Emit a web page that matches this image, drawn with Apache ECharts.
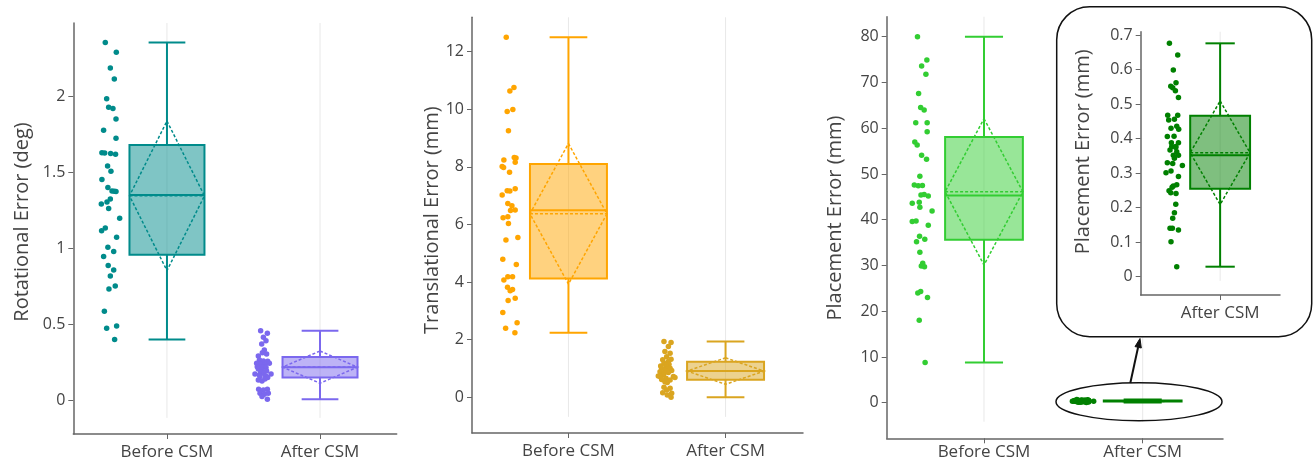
<!DOCTYPE html>
<html><head><meta charset="utf-8">
<script src="https://cdn.jsdelivr.net/npm/echarts@6/dist/echarts.min.js"></script>
<style>html,body{margin:0;padding:0;background:#fff}#c{width:1313px;height:467px}</style>
</head><body><div id="c"></div>
<script>
const categories = ['Before CSM', 'After CSM'];

// ---- Rotational error (deg) ----
const rotBefore = [2.351,2.287,2.184,2.112,1.982,1.925,1.917,1.849,1.774,1.721,1.627,1.625,1.621,1.616,1.539,1.504,1.450,1.397,1.375,1.373,1.371,1.322,1.303,1.289,1.259,1.195,1.132,1.114,1.070,1.004,0.976,0.943,0.884,0.855,0.816,0.750,0.730,0.583,0.487,0.471,0.397];
const rotBeforeJitter = [-0.403,-0.331,-0.370,-0.344,-0.394,-0.381,-0.353,-0.333,-0.414,-0.333,-0.425,-0.407,-0.368,-0.336,-0.388,-0.366,-0.425,-0.386,-0.359,-0.344,-0.333,-0.370,-0.392,-0.429,-0.381,-0.309,-0.403,-0.427,-0.329,-0.386,-0.348,-0.414,-0.384,-0.348,-0.370,-0.338,-0.379,-0.409,-0.329,-0.394,-0.342];
const rotAfter = [0.456,0.439,0.412,0.390,0.368,0.329,0.311,0.303,0.289,0.263,0.257,0.254,0.241,0.241,0.237,0.230,0.219,0.219,0.213,0.204,0.197,0.190,0.186,0.175,0.171,0.171,0.164,0.158,0.154,0.147,0.138,0.132,0.125,0.070,0.070,0.066,0.044,0.044,0.037,0.022,0.004];
const rotAfterJitter = [-0.388,-0.344,-0.370,-0.353,-0.381,-0.364,-0.377,-0.349,-0.403,-0.396,-0.370,-0.342,-0.414,-0.331,-0.386,-0.360,-0.375,-0.410,-0.353,-0.403,-0.381,-0.349,-0.388,-0.370,-0.425,-0.320,-0.396,-0.355,-0.392,-0.342,-0.360,-0.403,-0.379,-0.401,-0.344,-0.370,-0.392,-0.338,-0.364,-0.379,-0.344];
// [position, min, q1, median, q3, max, mean, sd]
const rotBeforeBox = [0, 0.397, 0.956, 1.349, 1.678, 2.351, 1.343, 0.492];
const rotAfterBox  = [1, 0.004, 0.147, 0.215, 0.283, 0.456, 0.216, 0.106];
const rotTicks = [0, 0.5, 1, 1.5, 2];

// ---- Translational error (mm) ----
const trBefore = [12.50,10.75,10.63,9.99,9.92,9.25,8.32,8.31,8.24,8.16,8.01,7.98,7.81,7.24,7.17,7.16,7.02,6.73,6.65,6.50,6.48,6.27,6.23,6.03,5.55,5.46,4.79,4.61,4.18,4.18,4.07,3.82,3.74,3.70,3.44,3.36,2.94,2.59,2.40,2.24];
const trBeforeJitter = [-0.396,-0.347,-0.373,-0.354,-0.390,-0.382,-0.345,-0.334,-0.411,-0.339,-0.422,-0.413,-0.375,-0.339,-0.390,-0.373,-0.422,-0.386,-0.360,-0.339,-0.369,-0.386,-0.416,-0.382,-0.322,-0.398,-0.418,-0.332,-0.386,-0.356,-0.411,-0.388,-0.356,-0.371,-0.339,-0.384,-0.418,-0.327,-0.400,-0.341];
const trAfter = [1.94,1.90,1.76,1.59,1.53,1.41,1.32,1.30,1.24,1.18,1.15,1.12,1.09,1.06,1.01,1.01,0.98,0.95,0.93,0.93,0.89,0.86,0.84,0.77,0.74,0.72,0.72,0.69,0.66,0.62,0.60,0.54,0.51,0.35,0.31,0.25,0.16,0.14,0.08,0.00];
const trAfterJitter = [-0.392,-0.347,-0.364,-0.386,-0.353,-0.375,-0.347,-0.400,-0.364,-0.392,-0.360,-0.379,-0.413,-0.375,-0.353,-0.407,-0.370,-0.386,-0.343,-0.358,-0.417,-0.364,-0.390,-0.396,-0.428,-0.332,-0.417,-0.322,-0.379,-0.407,-0.353,-0.386,-0.371,-0.392,-0.353,-0.375,-0.400,-0.343,-0.371,-0.347];
const trBeforeBox = [0, 2.24, 4.12, 6.49, 8.10, 12.50, 6.37, 2.44];
const trAfterBox  = [1, 0.00, 0.61, 0.91, 1.23, 1.94, 0.91, 0.46];
const trTicks = [0, 2, 4, 6, 8, 10, 12];

// ---- Placement error (mm) ----
const plBefore = [80.0,74.9,73.6,71.8,67.6,64.5,64.0,61.2,61.2,59.2,57.0,56.3,54.1,53.2,49.5,47.6,47.5,47.4,45.5,45.4,45.2,43.8,43.6,42.7,41.9,39.7,39.6,38.8,36.4,35.7,35.2,32.9,30.5,29.9,29.7,24.3,24.0,23.0,18.0,8.8];
const plBeforeJitter = [-0.419,-0.360,-0.393,-0.366,-0.412,-0.399,-0.377,-0.430,-0.358,-0.358,-0.436,-0.421,-0.393,-0.362,-0.404,-0.439,-0.388,-0.414,-0.377,-0.397,-0.351,-0.408,-0.452,-0.404,-0.327,-0.428,-0.452,-0.351,-0.406,-0.373,-0.425,-0.404,-0.386,-0.395,-0.375,-0.399,-0.417,-0.356,-0.408,-0.371];
const plAfter = [0.676,0.642,0.599,0.562,0.552,0.547,0.539,0.519,0.468,0.468,0.456,0.454,0.436,0.430,0.427,0.407,0.406,0.388,0.388,0.377,0.377,0.374,0.367,0.362,0.352,0.352,0.343,0.330,0.328,0.322,0.306,0.301,0.290,0.266,0.263,0.259,0.249,0.243,0.241,0.210,0.185,0.169,0.140,0.140,0.135,0.101,0.029];
const plAfterJitter = [-0.415,-0.347,-0.383,-0.361,-0.404,-0.388,-0.366,-0.341,-0.429,-0.347,-0.374,-0.421,-0.355,-0.402,-0.339,-0.377,-0.432,-0.399,-0.341,-0.396,-0.363,-0.363,-0.410,-0.355,-0.383,-0.341,-0.374,-0.432,-0.388,-0.309,-0.402,-0.443,-0.341,-0.355,-0.383,-0.393,-0.418,-0.404,-0.361,-0.363,-0.374,-0.388,-0.410,-0.391,-0.341,-0.402,-0.355];
const plBeforeBox = [0, 8.8, 35.6, 45.3, 58.1, 80.0, 46.1, 16.0];
const plAfterBox  = [1, 0.029, 0.255, 0.352, 0.466, 0.676, 0.359, 0.150];
const plAfterInsetBox = [0, 0.029, 0.255, 0.352, 0.466, 0.676, 0.359, 0.150];
const plTicks = [0, 10, 20, 30, 40, 50, 60, 70, 80];
const plInsetTicks = [0, 0.1, 0.2, 0.3, 0.4, 0.5, 0.6, 0.7];

// ---- styles ----
const FONT = 'Open Sans';
const TXT = '#444';
const AXC = '#666';
const HALF_W = 0.245, CAP_W = 0.12;
const COLORS = {
  teal: ['#008B8B', 'rgba(0,139,139,0.5)'],
  purple: ['#7B68EE', 'rgba(123,104,238,0.5)'],
  orange: ['#FFA500', 'rgba(255,165,0,0.5)'],
  gold: ['#DAA520', 'rgba(218,165,32,0.5)'],
  lime: ['#32CD32', 'rgba(50,205,50,0.5)'],
  green: ['#008000', 'rgba(0,128,0,0.5)']
};

const chart = echarts.init(document.getElementById('c'), null, {renderer: 'canvas'});

function zip(offsets, values, center) {
  return values.map((v, i) => [center + offsets[i], v]);
}

function xAxisOpt(i, min, max, positions, names, margin, z) {
  return {
    type: 'value', gridIndex: i, min, max, z: z || 0,
    axisLine: {show: true, onZero: false, lineStyle: {color: AXC, width: 1.5}},
    axisTick: {show: true, customValues: positions, length: 5, lineStyle: {color: AXC, width: 1}},
    axisLabel: {show: true, customValues: positions,
      formatter: v => names[positions.indexOf(Math.round(v))],
      color: TXT, fontFamily: FONT, fontSize: 17, margin},
    splitLine: {show: false}
  };
}

function yAxisOpt(i, min, max, ticks, name, gap, pad, z) {
  return {
    type: 'value', gridIndex: i, min, max, z: z || 0,
    name, nameLocation: 'middle', nameGap: gap, nameRotate: 90,
    nameTextStyle: {color: TXT, fontFamily: FONT, fontSize: 20, padding: [0, 0, 0, pad]},
    axisLine: {show: true, onZero: false, lineStyle: {color: AXC, width: 1.5}},
    axisTick: {show: true, customValues: ticks, length: 5, lineStyle: {color: AXC, width: 1}},
    axisLabel: {show: true, customValues: ticks, color: TXT, fontFamily: FONT, fontSize: 16, margin: 8},
    splitLine: {show: false}
  };
}

function gridLines(i, positions, yTop, yEnd, z) {
  return {
    type: 'custom', xAxisIndex: i, yAxisIndex: i, silent: true, z: z || 1,
    data: positions.map(p => [p, yEnd]),
    renderItem: (params, api) => {
      const x = api.value(0);
      const a = api.coord([x, yTop]), b = api.coord([x, yEnd]);
      return {type: 'line', shape: {x1: a[0], y1: a[1], x2: b[0], y2: b[1]},
        style: {stroke: '#e8e8e8', lineWidth: 1}};
    }
  };
}

function boxSeries(i, stats, col, z) {
  const color = col[0], fill = col[1];
  return {
    type: 'custom', xAxisIndex: i, yAxisIndex: i, silent: true, z: z || 2,
    data: [stats],
    encode: {x: 0, y: [1, 2, 3, 4, 5]},
    renderItem: (params, api) => {
      const v = k => api.value(k);
      const x = v(0), mn = v(1), q1 = v(2), md = v(3), q3 = v(4), mx = v(5), mean = v(6), sd = v(7);
      const P = (a, b) => api.coord([a, b]);
      const tl = P(x - HALF_W, q3), br = P(x + HALF_W, q1);
      const line = (p1, p2, dash, w) => ({type: 'line',
        shape: {x1: p1[0], y1: p1[1], x2: p2[0], y2: p2[1]},
        style: {stroke: color, lineWidth: w || 2, lineDash: dash || null}});
      return {type: 'group', children: [
        {type: 'rect', shape: {x: tl[0], y: tl[1], width: br[0] - tl[0], height: Math.max(br[1] - tl[1], 0.5)},
          style: {fill, stroke: color, lineWidth: 2}},
        line(P(x, q3), P(x, mx)),
        line(P(x, q1), P(x, mn)),
        line(P(x - CAP_W, mx), P(x + CAP_W, mx)),
        line(P(x - CAP_W, mn), P(x + CAP_W, mn)),
        line(P(x - HALF_W, md), P(x + HALF_W, md)),
        line(P(x - HALF_W, mean), P(x + HALF_W, mean), [3, 2], 1.5),
        {type: 'polygon', shape: {points: [P(x, mean + sd), P(x + HALF_W, mean), P(x, mean - sd), P(x - HALF_W, mean)]},
          style: {fill: 'transparent', stroke: color, lineWidth: 1.5, lineDash: [3, 2]}}
      ]};
    }
  };
}

function dots(i, data, color, z) {
  return {type: 'scatter', xAxisIndex: i, yAxisIndex: i, data, symbolSize: 5.5,
    itemStyle: {color, opacity: 1}, z: z || 3, silent: true};
}

const Y1 = [-0.224, 2.480], Y2 = [-1.24, 13.19], Y3 = [-7.78, 84.37], Y4 = [-0.053, 0.7097];

const option = {
  animation: false,
  backgroundColor: '#fff',
  grid: [
    {left: 73.3, top: 23, width: 323.4, height: 411},
    {left: 472, top: 17.3, width: 331, height: 415.7},
    {left: 886.7, top: 16.7, width: 336.3, height: 421.6},
    {left: 1140.7, top: 31.7, width: 139.3, height: 263.3, z: 10}
  ],
  xAxis: [
    xAxisOpt(0, -0.612, 1.501, [0, 1], categories, 9.5),
    xAxisOpt(1, -0.614, 1.493, [0, 1], categories, 9.5),
    xAxisOpt(2, -0.613, 1.506, [0, 1], categories, 5.5),
    xAxisOpt(3, -0.65, 0.49, [0], [categories[1]], 9.5, 10)
  ],
  yAxis: [
    yAxisOpt(0, Y1[0], Y1[1], rotTicks, 'Rotational Error (deg)', 41.5, 13),
    yAxisOpt(1, Y2[0], Y2[1], trTicks, 'Translational Error (mm)', 30, 10),
    yAxisOpt(2, Y3[0], Y3[1], plTicks, 'Placement Error (mm)', 41.5, 19),
    yAxisOpt(3, Y4[0], Y4[1], plInsetTicks, 'Placement Error (mm)', 47.5, 23, 10)
  ],
  graphic: [
    {type: 'rect', z: 5, silent: true, shape: {x: 1056.7, y: 6.7, width: 255, height: 330, r: 33},
      style: {fill: '#fff', stroke: '#111', lineWidth: 1.5}},
    {type: 'ellipse', z: 20, silent: true, shape: {cx: 1139, cy: 401.7, rx: 83, ry: 19},
      style: {fill: 'transparent', stroke: '#111', lineWidth: 1.5}},
    {type: 'line', z: 20, silent: true, shape: {x1: 1130.3, y1: 383, x2: 1138.1, y2: 347.3},
      style: {stroke: '#111', lineWidth: 2}},
    {type: 'polygon', z: 20, silent: true, shape: {points: [[1140, 338.5], [1141.3, 348], [1135, 346.6]]},
      style: {fill: '#111', stroke: '#111', lineWidth: 1}}
  ],
  series: [
    gridLines(0, [0, 1], Y1[1], -0.118),
    boxSeries(0, rotBeforeBox, COLORS.teal),
    boxSeries(0, rotAfterBox, COLORS.purple),
    dots(0, zip(rotBeforeJitter, rotBefore, 0), COLORS.teal[0]),
    dots(0, zip(rotAfterJitter, rotAfter, 1), COLORS.purple[0]),

    gridLines(1, [0, 1], Y2[1], -0.68),
    boxSeries(1, trBeforeBox, COLORS.orange),
    boxSeries(1, trAfterBox, COLORS.gold),
    dots(1, zip(trBeforeJitter, trBefore, 0), COLORS.orange[0]),
    dots(1, zip(trAfterJitter, trAfter, 1), COLORS.gold[0]),

    gridLines(2, [0, 1], Y3[1], -4.15),
    boxSeries(2, plBeforeBox, COLORS.lime),
    boxSeries(2, plAfterBox, COLORS.green),
    dots(2, zip(plBeforeJitter, plBefore, 0), COLORS.lime[0]),
    dots(2, zip(plAfterJitter, plAfter, 1), COLORS.green[0]),

    gridLines(3, [0], Y4[1], -0.012, 11),
    boxSeries(3, plAfterInsetBox, COLORS.green, 12),
    dots(3, zip(plAfterJitter, plAfter, 0), COLORS.green[0], 13)
  ]
};
chart.setOption(option);
</script></body></html>
